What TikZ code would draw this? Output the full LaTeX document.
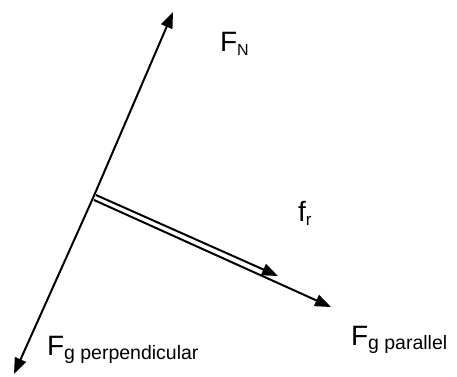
\documentclass[tikz,border=0pt]{standalone}
\usepackage{fontspec}
\setmainfont{Liberation Sans}
\usetikzlibrary{arrows.meta}
\tikzset{
  vec/.style={line width=2pt, -{Triangle[length=16pt,width=12pt]}},
  lbl/.style={anchor=base west, inner sep=0pt, outer sep=0pt},
}
\newcommand{\bigF}[1]{{\fontsize{28}{28}\selectfont #1}}
\newcommand{\lowsub}[2]{\raisebox{-4pt}{\fontsize{#1}{#1}\selectfont #2}}
\begin{document}
\begin{tikzpicture}[x=1pt,y=-1pt]
\useasboundingbox (0,0) rectangle (457,376);
\coordinate (O) at (93,198);
\coordinate (N) at (173,12);
\coordinate (P) at (14,374);
\coordinate (R0) at (96,195);
\coordinate (R) at (278,276);
\coordinate (G0) at (94,200);
\coordinate (G) at (331,307);
\draw[vec] (O) -- (N);
\draw[vec] (O) -- (P);
\draw[vec] (R0) -- (R);
\draw[vec] (G0) -- (G);
\node[lbl] (lN) at (220,51) {\bigF{F}\lowsub{16}{N}};
\node[lbl] (lr) at (298,221) {\bigF{f}\lowsub{17}{r}};
\node[lbl] (lpar) at (351,345) {\bigF{F}\lowsub{19.5}{g parallel}};
\node[lbl] (lperp) at (47,355) {\bigF{F}\lowsub{19.5}{g perpendicular}};
\end{tikzpicture}
\end{document}
